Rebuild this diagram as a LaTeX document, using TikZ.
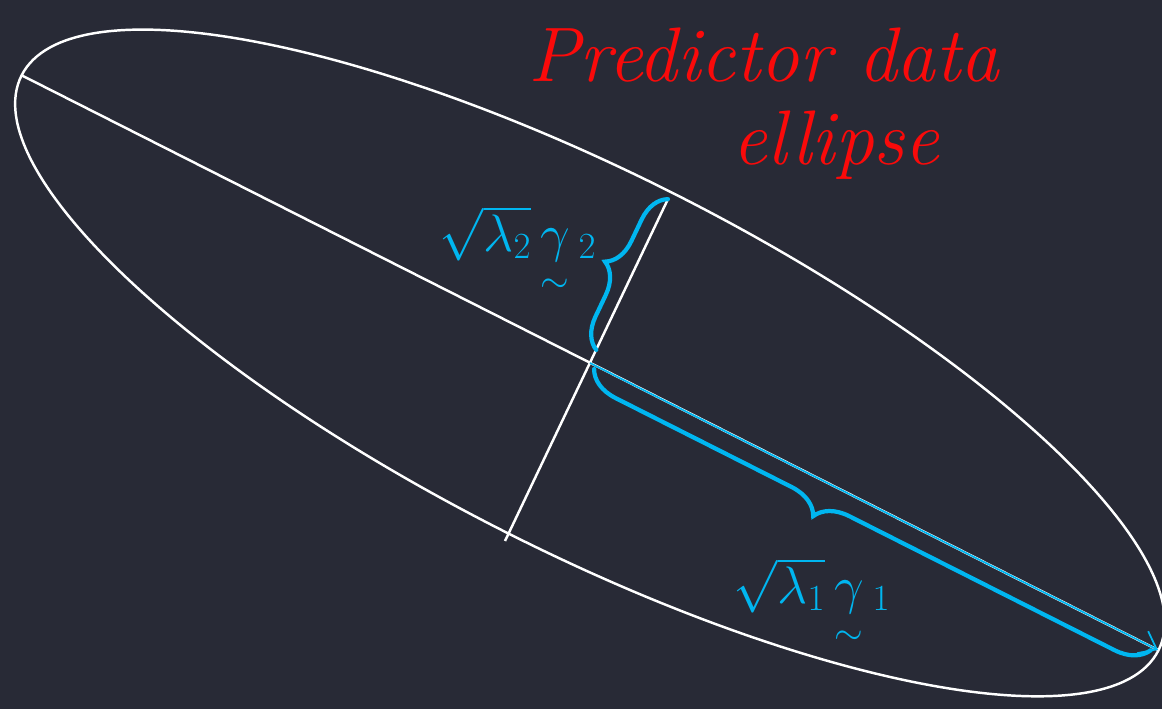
\RequirePackage{fix-cm}
\documentclass[tikz,border=0pt]{standalone}
\usepackage{amsmath,amssymb}
\usepackage{tikz}
\usetikzlibrary{arrows.meta,calc,decorations.pathreplacing,positioning}
\definecolor{board}{RGB}{40,42,54}
\definecolor{penred}{RGB}{250,10,10}
\definecolor{penblue}{RGB}{0,182,240}

\begin{document}
\begin{tikzpicture}[x=0.02cm,y=-0.02cm,
  axisline/.style={white,line width=1.4pt},
  eigbrace/.style={penblue,line width=2.4pt,line cap=round,decorate,decoration={brace,amplitude=#1}},
  every node/.style={inner sep=0pt}]
  \fill[board] (0,0) rectangle (1162,709);
  \useasboundingbox (0,0) rectangle (1162,709);
  % ellipse and its axes
  \coordinate (O) at (590,363);
  \coordinate (L) at (21,75);
  \coordinate (R) at (1158,650);
  \coordinate (T) at (668,199);
  \coordinate (B) at (505,541);
  \draw[axisline,rotate around={-26.83:(O)}] (O) ellipse [x radius=637,y radius=189];
  \draw[axisline] (L) -- (R);
  \draw[axisline] (T) -- (B);
  % eigen directions
  \draw[penblue,line width=1pt,-{Straight Barb[length=9pt,width=14pt]}] (O) -- (R);
  \draw[eigbrace=0.6cm] ($(O)!0.08!(T)$) -- (T);
  \draw[eigbrace=0.65cm,decoration={mirror,aspect=0.42,raise=2pt}] ($(O)!0.01!(R)$) -- ($(O)!0.99!(R)$);
  \node[penblue,font=\fontsize{30}{36}\selectfont] (lamtwo) at (518,252)
    {$\sqrt{\lambda_2}\,\underset{\sim}{\gamma}\,{}_2$};
  \node[penblue,font=\fontsize{30}{36}\selectfont] (lamone) at (812,604)
    {$\sqrt{\lambda_1}\,\underset{\sim}{\gamma}\,{}_1$};
  % title
  \node[penred,font=\fontsize{44}{52}\selectfont\itshape] (title) at (764,55) {Predictor data};
  \node[penred,font=\fontsize{44}{52}\selectfont\itshape] (titletwo) at (836,145) {ellipse};
\end{tikzpicture}
\end{document}
